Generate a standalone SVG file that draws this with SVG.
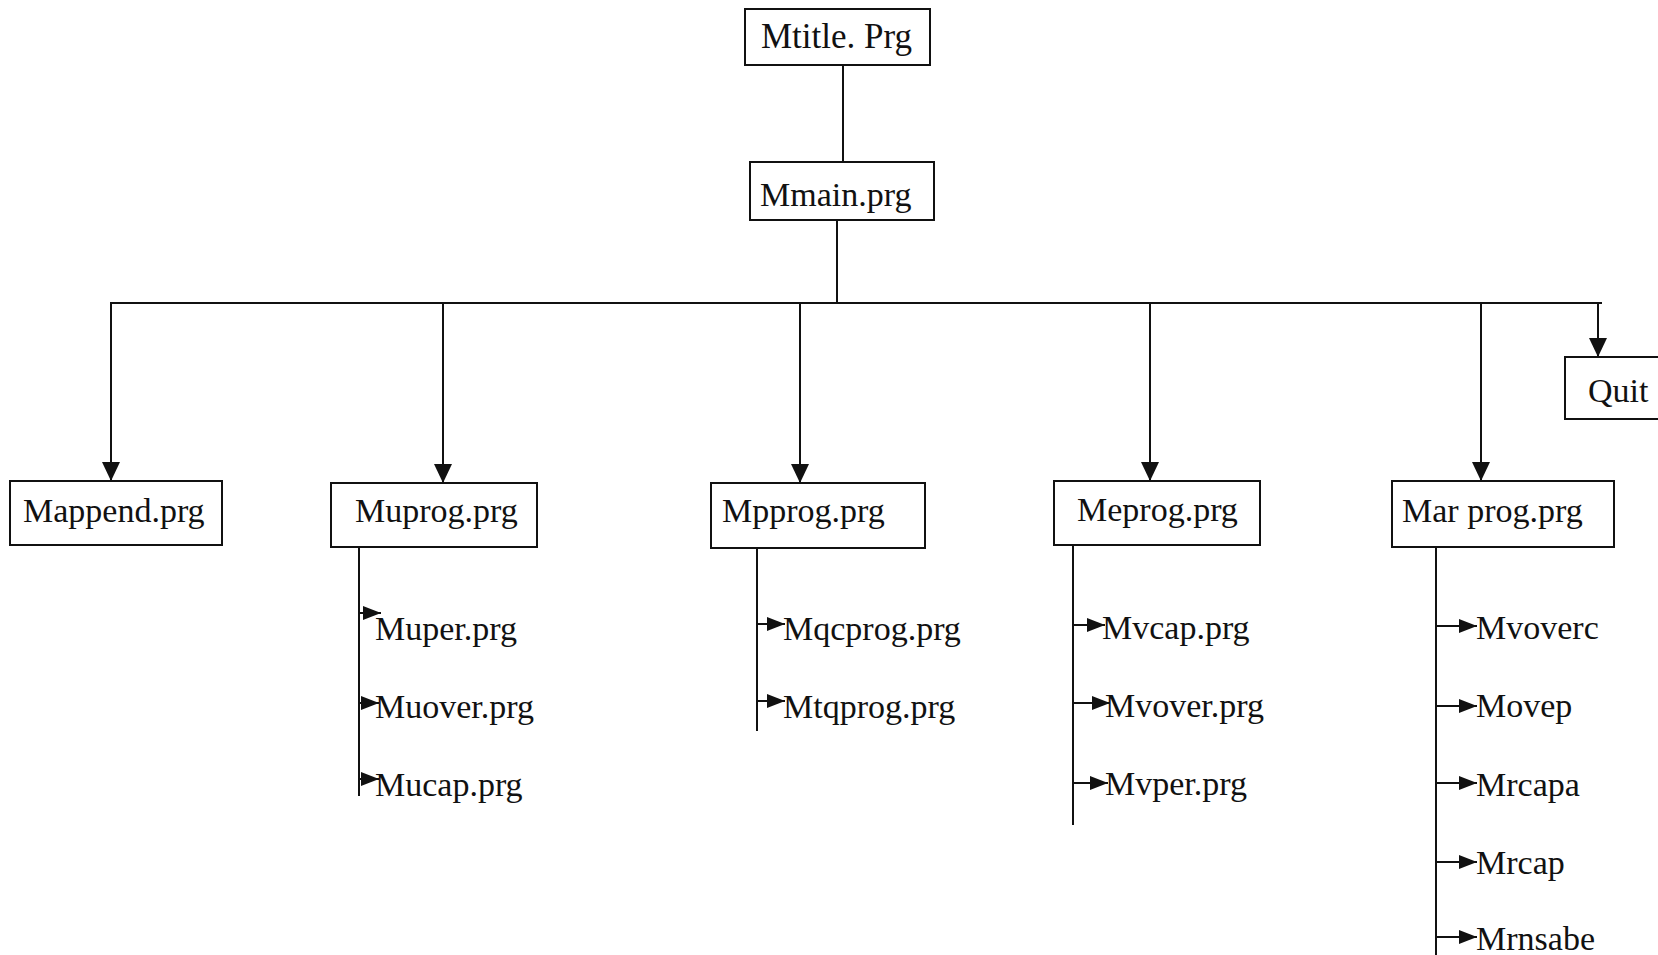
<svg xmlns="http://www.w3.org/2000/svg" width="1658" height="955" viewBox="0 0 1658 955">
<style>
  .box { fill: #ffffff; stroke: #111; stroke-width: 2; }
  .lbl { font-family: "Liberation Serif", "Times New Roman", serif; font-size: 34px; fill: #111; }
  .ln { fill: none; stroke: #111; stroke-width: 2; }
</style>
<defs>
  <marker id="ad" markerUnits="userSpaceOnUse" markerWidth="19" markerHeight="18" refX="19" refY="9" orient="auto">
    <path d="M0,0 L19,9 L0,18 Z" fill="#111"/>
  </marker>
  <marker id="as" markerUnits="userSpaceOnUse" markerWidth="18" markerHeight="14" refX="18" refY="7" orient="auto">
    <path d="M0,0 L18,7 L0,14 Z" fill="#111"/>
  </marker>
</defs>
<rect width="1658" height="955" fill="#ffffff"/>
<g id="connectors">
  <line class="ln" x1="843" y1="65" x2="843" y2="162"/>
  <line class="ln" x1="837" y1="220" x2="837" y2="303"/>
  <line class="ln" x1="110" y1="303" x2="1602" y2="303"/>
  <line class="ln" x1="111" y1="303" x2="111" y2="481" marker-end="url(#ad)"/>
  <line class="ln" x1="443" y1="303" x2="443" y2="483" marker-end="url(#ad)"/>
  <line class="ln" x1="800" y1="303" x2="800" y2="483" marker-end="url(#ad)"/>
  <line class="ln" x1="1150" y1="303" x2="1150" y2="481" marker-end="url(#ad)"/>
  <line class="ln" x1="1481" y1="303" x2="1481" y2="481" marker-end="url(#ad)"/>
  <line class="ln" x1="1598" y1="303" x2="1598" y2="357" marker-end="url(#ad)"/>
  <!-- Muprog branch -->
  <line class="ln" x1="359" y1="547" x2="359" y2="796"/>
  <line class="ln" x1="359" y1="613" x2="381" y2="613" marker-end="url(#as)"/>
  <line class="ln" x1="359" y1="703" x2="379" y2="703" marker-end="url(#as)"/>
  <line class="ln" x1="359" y1="779" x2="379" y2="779" marker-end="url(#as)"/>
  <!-- Mpprog branch -->
  <line class="ln" x1="757" y1="548" x2="757" y2="731"/>
  <line class="ln" x1="757" y1="624" x2="785" y2="624" marker-end="url(#as)"/>
  <line class="ln" x1="757" y1="701" x2="785" y2="701" marker-end="url(#as)"/>
  <!-- Meprog branch -->
  <line class="ln" x1="1073" y1="545" x2="1073" y2="825"/>
  <line class="ln" x1="1073" y1="625" x2="1105" y2="625" marker-end="url(#as)"/>
  <line class="ln" x1="1073" y1="703" x2="1110" y2="703" marker-end="url(#as)"/>
  <line class="ln" x1="1073" y1="783" x2="1108" y2="783" marker-end="url(#as)"/>
  <!-- Mar prog branch -->
  <line class="ln" x1="1436" y1="547" x2="1436" y2="955"/>
  <line class="ln" x1="1436" y1="626" x2="1477" y2="626" marker-end="url(#as)"/>
  <line class="ln" x1="1436" y1="706" x2="1477" y2="706" marker-end="url(#as)"/>
  <line class="ln" x1="1436" y1="783" x2="1477" y2="783" marker-end="url(#as)"/>
  <line class="ln" x1="1436" y1="862" x2="1477" y2="862" marker-end="url(#as)"/>
  <line class="ln" x1="1436" y1="937" x2="1477" y2="937" marker-end="url(#as)"/>
</g>
<g id="mtitle"><rect class="box" x="745" y="9" width="185" height="56"/><text class="lbl" x="761" y="48" style="font-size:35px">Mtitle. Prg</text></g>
<g id="mmain"><rect class="box" x="750" y="162" width="184" height="58"/><text class="lbl" x="760" y="206">Mmain.prg</text></g>
<g id="mappend"><rect class="box" x="10" y="481" width="212" height="64"/><text class="lbl" x="23" y="522">Mappend.prg</text></g>
<g id="muprog"><rect class="box" x="331" y="483" width="206" height="64"/><text class="lbl" x="355" y="522">Muprog.prg</text></g>
<g id="mpprog"><rect class="box" x="711" y="483" width="214" height="65"/><text class="lbl" x="722" y="522">Mpprog.prg</text></g>
<g id="meprog"><rect class="box" x="1054" y="481" width="206" height="64"/><text class="lbl" x="1077" y="521">Meprog.prg</text></g>
<g id="marprog"><rect class="box" x="1392" y="481" width="222" height="66"/><text class="lbl" x="1402" y="522">Mar prog.prg</text></g>
<g id="quit"><rect class="box" x="1565" y="357" width="100" height="62"/><text class="lbl" x="1588" y="402">Quit</text></g>
<g id="muper"><text class="lbl" x="375" y="640">Muper.prg</text></g>
<g id="muover"><text class="lbl" x="375" y="718">Muover.prg</text></g>
<g id="mucap"><text class="lbl" x="375" y="796">Mucap.prg</text></g>
<g id="mqcprog"><text class="lbl" x="783" y="640">Mqcprog.prg</text></g>
<g id="mtqprog"><text class="lbl" x="783" y="718">Mtqprog.prg</text></g>
<g id="mvcap"><text class="lbl" x="1102" y="639">Mvcap.prg</text></g>
<g id="mvover"><text class="lbl" x="1105" y="717">Mvover.prg</text></g>
<g id="mvper"><text class="lbl" x="1105" y="795">Mvper.prg</text></g>
<g id="mvoverc"><text class="lbl" x="1476" y="639">Mvoverc</text></g>
<g id="movep"><text class="lbl" x="1476" y="717">Movep</text></g>
<g id="mrcapa"><text class="lbl" x="1476" y="796">Mrcapa</text></g>
<g id="mrcap"><text class="lbl" x="1476" y="874">Mrcap</text></g>
<g id="mrnsabe"><text class="lbl" x="1476" y="950">Mrnsabe</text></g>
</svg>
